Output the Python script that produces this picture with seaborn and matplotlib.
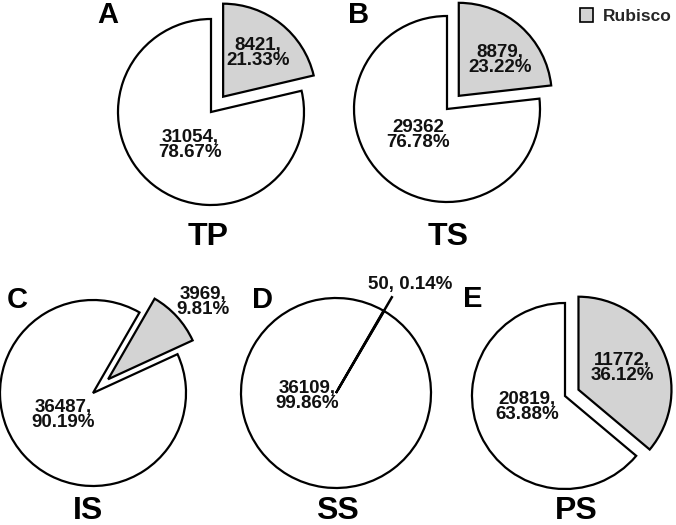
import matplotlib
matplotlib.use("Agg")
import matplotlib.pyplot as plt
import seaborn as sns
import numpy as np
from matplotlib.patches import Patch

# ---- data ----
panels = ["A", "B", "C", "D", "E"]
samples = ["TP", "TS", "IS", "SS", "PS"]
rubisco = [8421, 8879, 3969, 50, 11772]
other = [31054, 29362, 36487, 36109, 20819]
other_sep = [",", "", ",", ",", ","]
legend_label = "Rubisco"

# ---- style ----
sns.set_theme(style="white")
plt.rcParams['font.family'] = ['Liberation Sans', 'DejaVu Sans']
GRAY = "#d3d3d3"

W, H = 676, 525
# layout per panel: centre (px, y from top), radius, start angle, explode (fraction of R), label offsets (px)
layout = [
    dict(c=(211, 112), r=93, start=90, ex=0.21, lr=(47, -59), lo=(-21, 33), letter=(108, 15), title=(208, 237)),
    dict(c=(447, 109), r=93, start=90, ex=0.19, lr=(53, -49), lo=(-29, 26), letter=(359, 15), title=(448, 237)),
    dict(c=(93, 393), r=93, start=60, ex=0.22, lr=(110, -91), lo=(-30, 22), letter=(17, 300), title=(88, 511)),
    dict(c=(336, 393), r=95, start=60, ex=0.0, lr=(74, -108), lo=(-29, 3), letter=(263, 300), title=(337, 511)),
    dict(c=(565, 396), r=93, start=90, ex=0.16, lr=(57, -28), lo=(-38, 11), letter=(473, 299), title=(576, 511)),
]

fig = plt.figure(figsize=(6.76, 5.25), dpi=100)
ax = fig.add_axes([0, 0, 1, 1])

for i in range(5):
    L = layout[i]
    R = L["r"]
    cx, cy = L["c"][0], H - L["c"][1]
    vals = [rubisco[i], other[i]]
    tot = sum(vals)
    pr = 100 * rubisco[i] / tot
    po = 100 * other[i] / tot
    wedges, _ = ax.pie(vals, center=(cx, cy), radius=R, startangle=L["start"],
                       counterclock=False, explode=[L["ex"] * R, 0],
                       colors=[GRAY, "white"], frame=True,
                       wedgeprops=dict(edgecolor="black", linewidth=1.6, joinstyle="miter"))
    lo = L["lo"]
    ax.text(cx + lo[0], cy - lo[1], f"{other[i]}{other_sep[i]}\n{po:.2f}%",
            ha="center", va="center", fontsize=13.5, fontweight="bold",
            linespacing=0.92, color="#111111")
    lr = L["lr"]
    if samples[i] == "SS":
        w = wedges[0]
        mid = np.deg2rad((w.theta1 + w.theta2) / 2)
        ax.plot([cx + 4 * np.cos(mid), cx + 1.18 * R * np.cos(mid)],
                [cy + 4 * np.sin(mid), cy + 1.18 * R * np.sin(mid)],
                color="black", lw=1.8, solid_capstyle="butt")
        ax.text(cx + lr[0], cy - lr[1], f"{rubisco[i]}, {pr:.2f}%",
                ha="center", va="center", fontsize=13.5, fontweight="bold", color="#111111")
    else:
        ax.text(cx + lr[0], cy - lr[1], f"{rubisco[i]},\n{pr:.2f}%",
                ha="center", va="center", fontsize=13.5, fontweight="bold",
                linespacing=0.92, color="#111111")
    ax.text(L["letter"][0], H - L["letter"][1], panels[i], ha="center", va="center",
            fontsize=21, fontweight="bold", color="black")
    ax.text(L["title"][0], H - L["title"][1], samples[i], ha="center", va="center",
            fontsize=23, fontweight="bold", color="black")

# legend
handles = [Patch(facecolor=GRAY, edgecolor="black", linewidth=1.2, label=legend_label)]
fig.legend(handles=handles, loc="upper right", bbox_to_anchor=(1.009, 1.005), frameon=False,
           prop=dict(weight="bold", size=12.5), handlelength=0.7, handleheight=0.9,
           handletextpad=0.6, borderaxespad=0.2)

ax.set_xlim(0, W)
ax.set_ylim(0, H)
ax.set_aspect("equal")
ax.axis("off")

fig.savefig("out.png", dpi=100, facecolor="white")
